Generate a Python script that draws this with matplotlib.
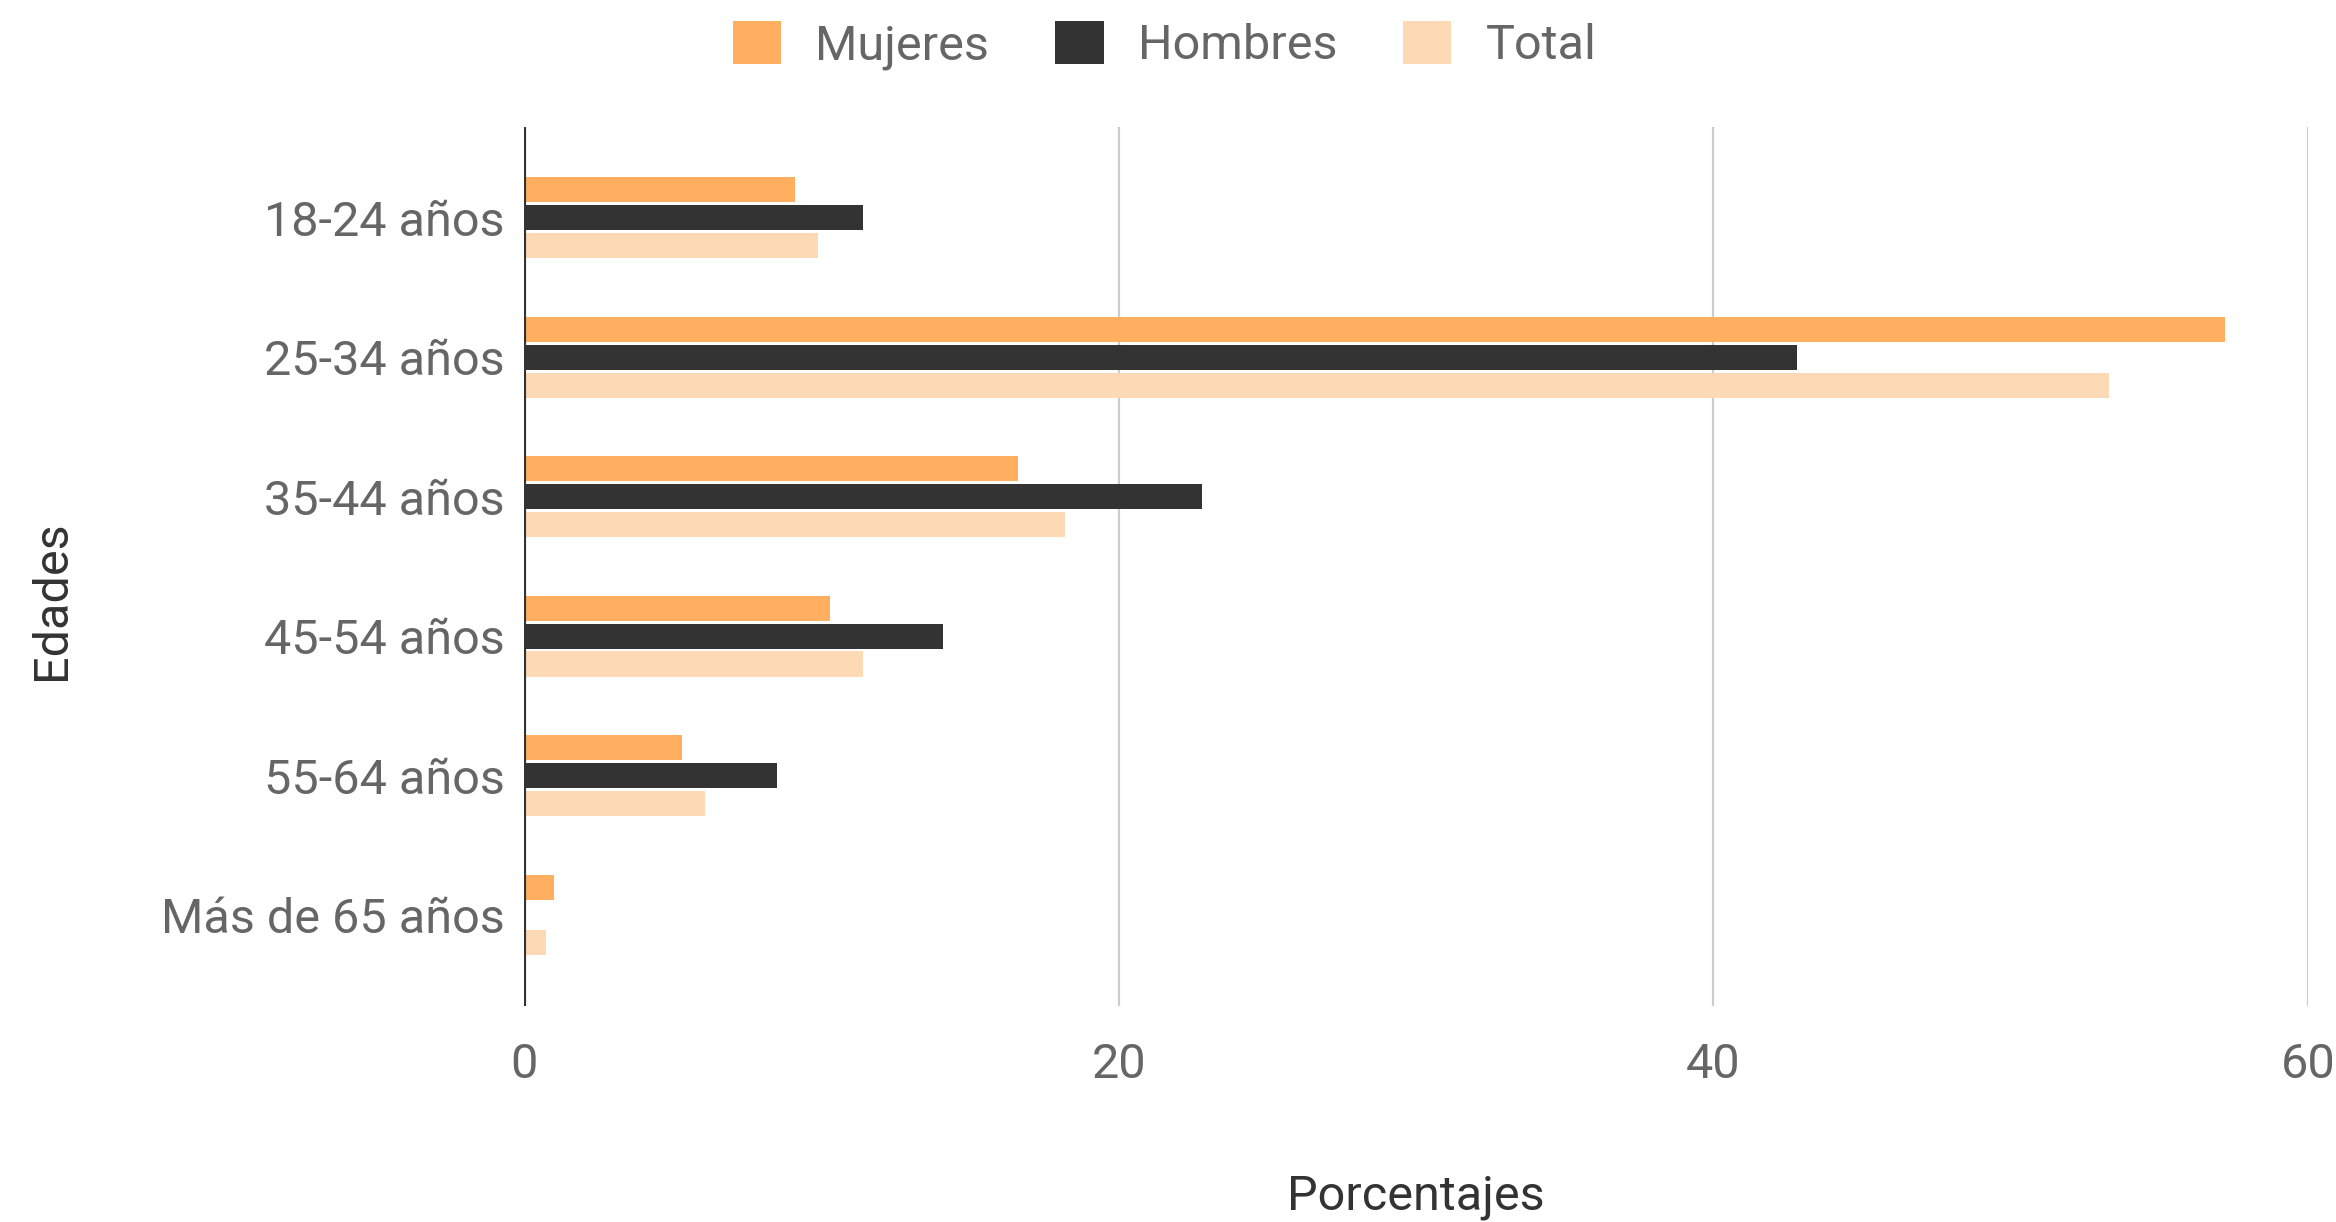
import matplotlib
matplotlib.use("Agg")
import matplotlib.pyplot as plt
from matplotlib.patches import Patch
import numpy as np

plt.rcParams['font.family'] = ['Roboto', 'DejaVu Sans']

categories = ["18-24 años", "25-34 años", "35-44 años", "45-54 años", "55-64 años", "Más de 65 años"]
mujeres = [9.1, 57.2, 16.6, 10.3, 5.3, 1.0]
hombres = [11.4, 42.8, 22.8, 14.1, 8.5, 0.0]
total = [9.9, 53.3, 18.2, 11.4, 6.1, 0.75]
series_names = ["Mujeres", "Hombres", "Total"]
colors = ["#FFAF5F", "#333333", "#FDDAB5"]
xticks = [0, 20, 40, 60]

fig = plt.figure(figsize=(11.68, 6.11), dpi=200)
ax = fig.add_axes([0.2243, 0.177, 0.988 - 0.2243, 0.896 - 0.177])

y = np.arange(len(categories))
h = 0.18
off = 0.2
for i, (vals, c) in enumerate(zip([mujeres, hombres, total], colors)):
    ax.barh(y + (i - 1) * off, vals, height=h, color=c, zorder=3, linewidth=0)

ax.set_ylim(len(categories) - 1 + 0.65, -0.65)
ax.set_xlim(0, 60)
ax.set_yticks(y)
ax.set_yticklabels(categories)
ax.set_xticks(xticks)
ax.set_xticklabels([str(v) for v in xticks])

for v in xticks[1:]:
    ax.axvline(v, color="#CCCCCC", lw=0.8, zorder=1)
ax.axvline(0, color="#333333", lw=1.5, zorder=4)

for s in ax.spines.values():
    s.set_visible(False)
fs = 17.5
ax.tick_params(axis='both', length=0, labelsize=fs, labelcolor="#666666")
ax.tick_params(axis='y', pad=7)
ax.tick_params(axis='x', pad=13)

ax.set_xlabel("Porcentajes", fontsize=fs, color="#333333", va='baseline')
ax.xaxis.set_label_coords(0.5, -0.2321)
ax.set_ylabel("Edades", fontsize=fs, color="#333333", va='center')
ax.yaxis.set_label_coords(-0.2646, 0.461)

handles = [Patch(facecolor=c, edgecolor='none') for c in colors]
fig.legend(handles, series_names, loc='center', bbox_to_anchor=(0.4985, 0.963), ncol=3,
           frameon=False, fontsize=fs, labelcolor="#666666",
           handlelength=1.0, handleheight=1.0, handletextpad=0.7, columnspacing=1.35)

fig.savefig("out.png", dpi=200)
